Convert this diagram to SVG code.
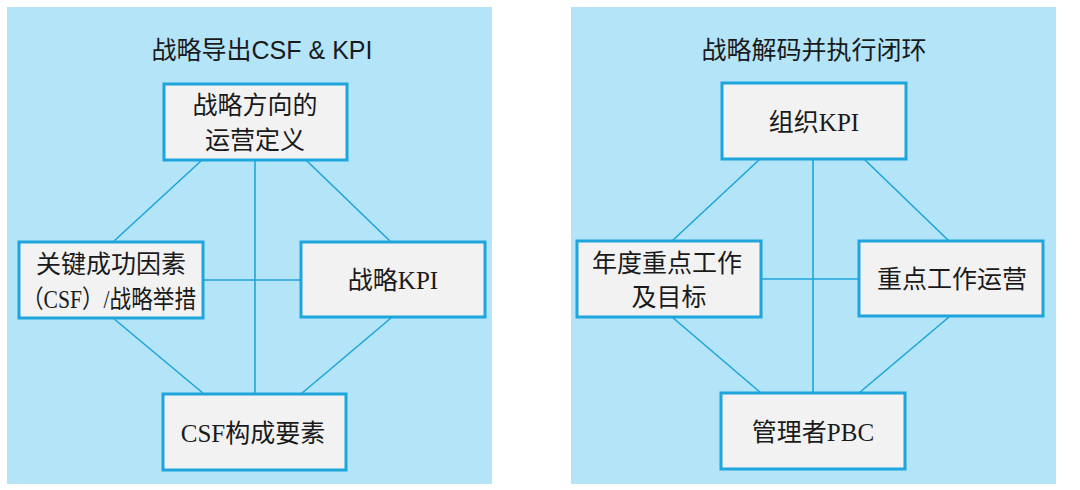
<svg xmlns="http://www.w3.org/2000/svg" width="1080" height="490" viewBox="0 0 1080 490">
<style>
.panel{fill:#b3e4f8}
.node{fill:#f2f2f2;stroke:#1ea5dc;stroke-width:3}
.conn{stroke:#1ea5dc;stroke-width:1.6;fill:none}
.title{font-family:"Liberation Sans","Noto Sans CJK SC",sans-serif;font-size:25px;fill:#1a1a1a;text-anchor:middle}
.lbl{font-family:"Liberation Serif","Noto Sans CJK SC",serif;font-size:25px;fill:#1a1a1a;text-anchor:middle;dominant-baseline:central}
</style>
<rect width="1080" height="490" fill="#ffffff"/>
<rect class="panel" x="7" y="7" width="485" height="477"/>
<rect class="panel" x="571" y="7" width="485" height="477"/>
<text class="title" x="262" y="59">战略导出CSF &amp; KPI</text>
<text class="title" x="814" y="59">战略解码并执行闭环</text>
<g id="connectors">
<line class="conn" x1="255" y1="160" x2="255" y2="394"/>
<line class="conn" x1="202" y1="160" x2="113" y2="242"/>
<line class="conn" x1="306" y1="160" x2="391" y2="242"/>
<line class="conn" x1="113" y1="318" x2="204" y2="394"/>
<line class="conn" x1="391" y1="318" x2="301" y2="394"/>
<line class="conn" x1="203" y1="280" x2="301" y2="280"/>
<line class="conn" x1="813" y1="159" x2="813" y2="393"/>
<line class="conn" x1="760" y1="159" x2="672" y2="241"/>
<line class="conn" x1="864" y1="159" x2="949" y2="241"/>
<line class="conn" x1="672" y1="317" x2="761" y2="393"/>
<line class="conn" x1="949" y1="317" x2="859" y2="393"/>
<line class="conn" x1="761" y1="279" x2="859" y2="279"/>
</g>
<g id="n-direction">
<rect class="node" x="164" y="84" width="183" height="76"/>
<text class="lbl" x="255" y="105">战略方向的</text>
<text class="lbl" x="255" y="140">运营定义</text>
</g>
<g id="n-csf">
<rect class="node" x="19" y="242" width="184" height="76"/>
<text class="lbl" x="111" y="264">关键成功因素</text>
<text class="lbl" x="109" y="299" textLength="174" lengthAdjust="spacingAndGlyphs">（CSF）/战略举措</text>
</g>
<g id="n-kpi">
<rect class="node" x="301" y="242" width="184" height="75"/>
<text class="lbl" x="393" y="280">战略KPI</text>
</g>
<g id="n-csf-elements">
<rect class="node" x="163" y="394" width="183" height="76"/>
<text class="lbl" x="253" y="433">CSF构成要素</text>
</g>
<g id="n-org-kpi">
<rect class="node" x="722" y="83" width="184" height="76"/>
<text class="lbl" x="814" y="122">组织KPI</text>
</g>
<g id="n-annual">
<rect class="node" x="577" y="241" width="184" height="76"/>
<text class="lbl" x="667" y="263">年度重点工作</text>
<text class="lbl" x="669" y="297">及目标</text>
</g>
<g id="n-ops">
<rect class="node" x="859" y="241" width="184" height="75"/>
<text class="lbl" x="952" y="279">重点工作运营</text>
</g>
<g id="n-pbc">
<rect class="node" x="721" y="393" width="184" height="76"/>
<text class="lbl" x="813" y="432">管理者PBC</text>
</g>
</svg>
